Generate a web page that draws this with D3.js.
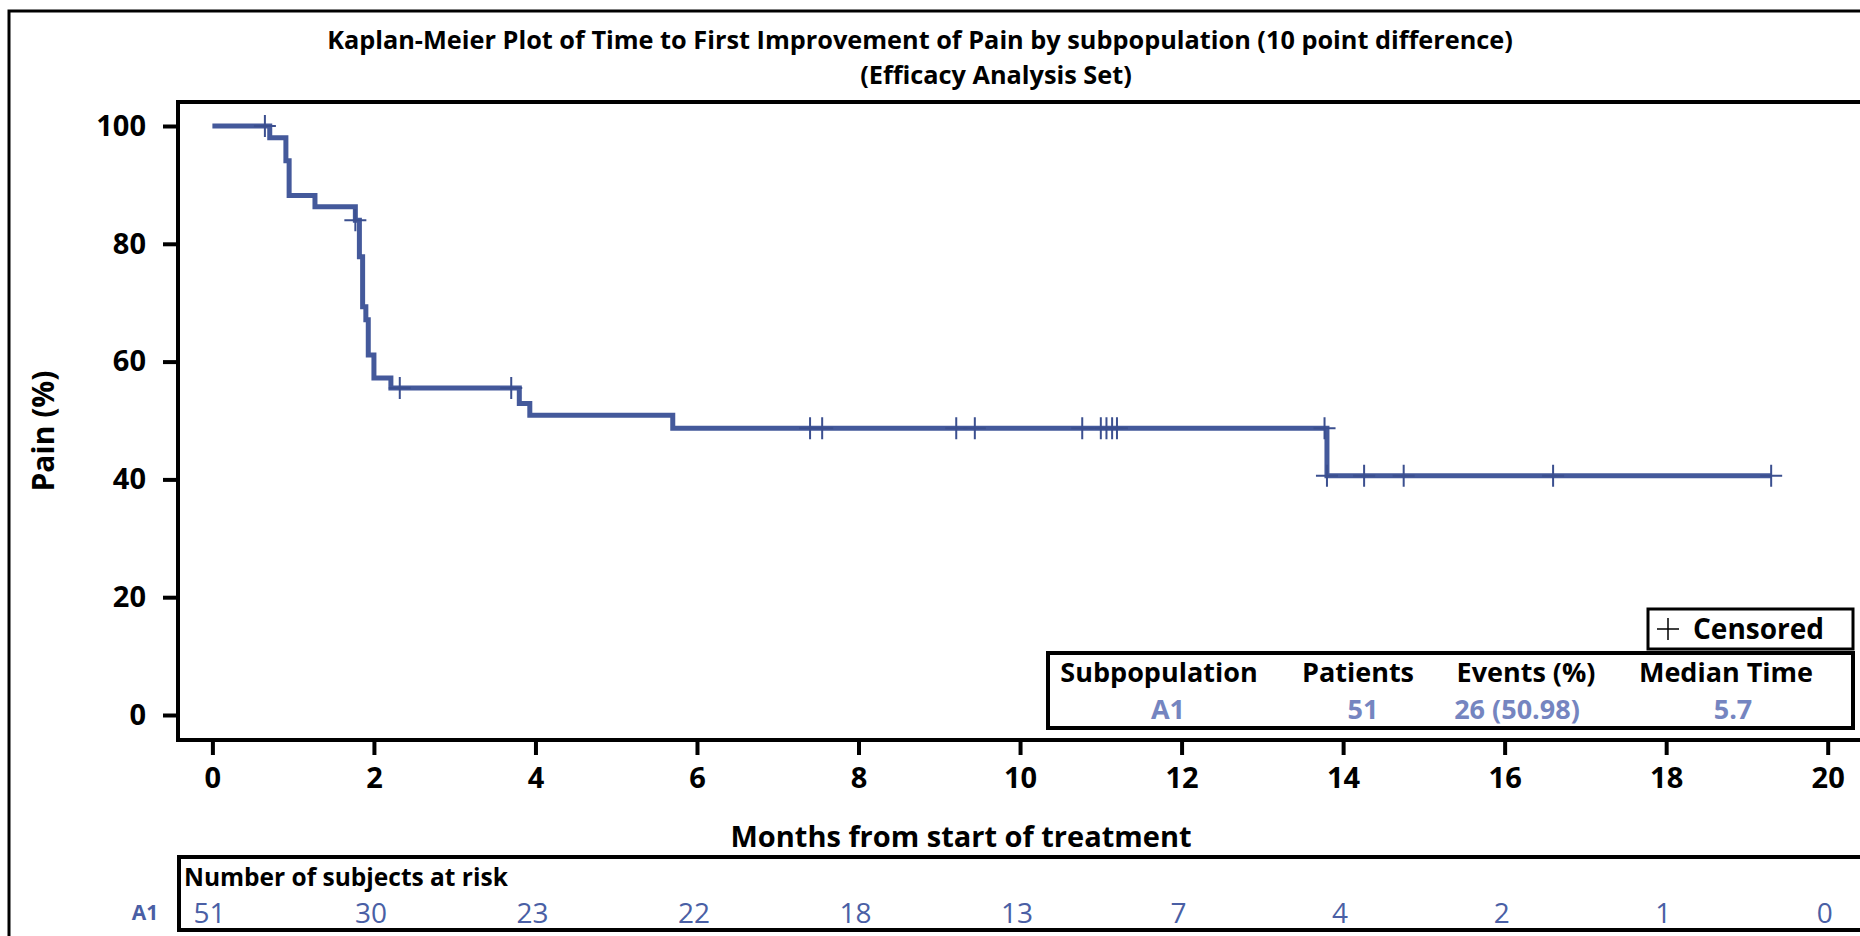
<!DOCTYPE html>
<html>
<head>
<meta charset="utf-8">
<script src="https://cdn.jsdelivr.net/npm/d3@7"></script>
<style>
	body { margin: 0; background: #fff; }
	svg { display: block; }
	text { font-family: "Open Sans", sans-serif; }
	.bold { font-weight: bold; }
</style>
</head>
<body>
<svg id="plot" width="1860" height="936"></svg>
<script>
const TITLE_LINES = ['Kaplan-Meier Plot of Time to First Improvement of Pain by subpopulation (10 point difference)',
	'(Efficacy Analysis Set)'];
const MONTH_TICKS = [0, 2, 4, 6, 8, 10, 12, 14, 16, 18, 20];
const PAIN_TICKS = [0, 20, 40, 60, 80, 100];
const AT_RISK = [51, 30, 23, 22, 18, 13, 7, 4, 2, 1, 0];

// step times (months) and survival level (%) starting at each time
const STEP_TIMES = [0, 0.71, 0.91, 0.95, 1.27, 1.77, 1.82, 1.86, 1.90, 1.93, 2.00, 2.21, 3.80, 3.93, 5.70, 13.80, 19.30];
const STEP_SURV = [100, 98.0, 94.1, 88.2, 86.3, 84.0, 77.8, 69.3, 67.1, 61.1, 57.2, 55.5, 52.9, 50.9, 48.7, 40.6, 40.6];
const CENSOR_TIMES = [0.65, 1.77, 2.32, 3.70, 7.40, 7.55, 9.21, 9.44, 10.77, 11.00, 11.07, 11.14, 11.20,
	13.77, 13.80, 14.26, 14.75, 16.60, 19.30];

const STATS_HEADERS = ['Subpopulation', 'Patients', 'Events (%)', 'Median Time'];
const STATS_VALUES = ['A1', '51', '26 (50.98)', '5.7'];
const GROUP = 'A1';

const CURVE = '#44599b';
const VALUE_COLOR = '#7585c0';
const RISK_COLOR = '#4a5fa5';

const svg = d3.select('#plot');

// outer frame (runs off the right / bottom edge like the reference)
svg.append('rect')
	.attr('x', 9).attr('y', 11).attr('width', 1900).attr('height', 1000)
	.attr('fill', 'none').attr('stroke', '#000').attr('stroke-width', 3);

// title (second line sits a little right of the first, as in the original)
const TITLE_X = [920, 996];
svg.append('g').selectAll('text')
	.data(TITLE_LINES)
	.enter().append('text')
	.classed('bold', true)
	.attr('x', (d, i) => TITLE_X[i])
	.attr('y', (d, i) => 40 + i * 35)
	.attr('dy', '0.35em')
	.attr('text-anchor', 'middle')
	.style('font-size', '25.3px')
	.text(d => d);

const x = d3.scaleLinear().domain([0, 20]).range([212.4, 1827.7]);
const y = d3.scaleLinear().domain([0, 100]).range([715, 126]);

// plot frame
svg.append('rect')
	.attr('x', 178).attr('y', 102).attr('width', 1760).attr('height', 638)
	.attr('fill', 'none').attr('stroke', '#000').attr('stroke-width', 4);

// y axis
const yAxis = svg.append('g')
	.attr('transform', 'translate(178,0)')
	.call(d3.axisLeft(y).tickValues(PAIN_TICKS).tickSize(15).tickPadding(17));
yAxis.select('.domain').remove();
yAxis.selectAll('.tick line').attr('stroke-width', 4);
yAxis.selectAll('.tick text').classed('bold', true)
	.style('font-size', '29px').style('font-family', '"Open Sans", sans-serif').attr('fill', '#000');

// x axis
const xAxis = svg.append('g')
	.attr('transform', 'translate(0,742)')
	.call(d3.axisBottom(x).tickValues(MONTH_TICKS).tickSize(13).tickPadding(12));
xAxis.select('.domain').remove();
xAxis.selectAll('.tick line').attr('stroke-width', 4);
xAxis.selectAll('.tick text').classed('bold', true)
	.style('font-size', '29px').style('font-family', '"Open Sans", sans-serif').attr('fill', '#000');

// axis titles
svg.append('text').classed('bold', true)
	.attr('x', 961).attr('y', 837).attr('dy', '0.35em')
	.attr('text-anchor', 'middle').style('font-size', '29px')
	.text('Months from start of treatment');

svg.append('text').classed('bold', true)
	.attr('transform', 'translate(43,431) rotate(-90)')
	.attr('dy', '0.35em')
	.attr('text-anchor', 'middle').style('font-size', '30px')
	.text('Pain (%)');

// KM curve
const steps = STEP_TIMES.map((t, i) => ({t: t, s: STEP_SURV[i]}));
const line = d3.line()
	.x(d => x(d.t))
	.y(d => y(d.s))
	.curve(d3.curveStepAfter);

svg.append('path')
	.datum(steps)
	.attr('d', line)
	.attr('fill', 'none')
	.attr('stroke', CURVE)
	.attr('stroke-width', 5);

function survAt(t) {
	let s = STEP_SURV[0];
	STEP_TIMES.forEach((st, i) => { if (st <= t) s = STEP_SURV[i]; });
	return s;
}

// censored marks
svg.append('g').selectAll('path')
	.data(CENSOR_TIMES)
	.enter().append('path')
	.attr('d', d => `M${x(d) - 11},${y(survAt(d))}h22M${x(d)},${y(survAt(d)) - 11}v22`)
	.attr('stroke', '#3b4f8f')
	.attr('stroke-width', 2);

// censored legend
svg.append('rect')
	.attr('x', 1648).attr('y', 609).attr('width', 205).attr('height', 40)
	.attr('fill', '#fff').attr('stroke', '#000').attr('stroke-width', 3);
svg.append('path')
	.attr('d', 'M1657,629h22M1668,618v22')
	.attr('stroke', '#000').attr('stroke-width', 1.5);
svg.append('text').classed('bold', true)
	.attr('x', 1693).attr('y', 629).attr('dy', '0.35em')
	.style('font-size', '28px')
	.text('Censored');

// stats table
const HEAD_X = [1159, 1358, 1526, 1726];
const VALUE_X = [1168, 1363, 1517, 1733];
svg.append('rect')
	.attr('x', 1048).attr('y', 653).attr('width', 805).attr('height', 75)
	.attr('fill', '#fff').attr('stroke', '#000').attr('stroke-width', 4);
svg.append('g').selectAll('text')
	.data(STATS_HEADERS)
	.enter().append('text')
	.classed('bold', true)
	.attr('x', (d, i) => HEAD_X[i]).attr('y', 673).attr('dy', '0.35em')
	.attr('text-anchor', 'middle').style('font-size', '27px')
	.text(d => d);
svg.append('g').selectAll('text')
	.data(STATS_VALUES)
	.enter().append('text')
	.classed('bold', true)
	.attr('x', (d, i) => VALUE_X[i]).attr('y', 710).attr('dy', '0.35em')
	.attr('text-anchor', 'middle').style('font-size', '27px')
	.attr('fill', VALUE_COLOR)
	.text(d => d);

// number at risk
svg.append('rect')
	.attr('x', 179).attr('y', 857).attr('width', 1760).attr('height', 73)
	.attr('fill', 'none').attr('stroke', '#000').attr('stroke-width', 4);
svg.append('text').classed('bold', true)
	.attr('x', 184).attr('y', 877).attr('dy', '0.35em')
	.style('font-size', '24.5px')
	.text('Number of subjects at risk');
svg.append('text').classed('bold', true)
	.attr('x', 145).attr('y', 913).attr('dy', '0.35em')
	.attr('text-anchor', 'middle').style('font-size', '21px')
	.attr('fill', RISK_COLOR)
	.text(GROUP);
svg.append('g').selectAll('text')
	.data(AT_RISK)
	.enter().append('text')
	.attr('x', (d, i) => x(MONTH_TICKS[i]) - 3)
	.attr('y', 913).attr('dy', '0.35em')
	.attr('text-anchor', 'middle').style('font-size', '28px')
	.attr('fill', RISK_COLOR)
	.text(d => d);
</script>
</body>
</html>
